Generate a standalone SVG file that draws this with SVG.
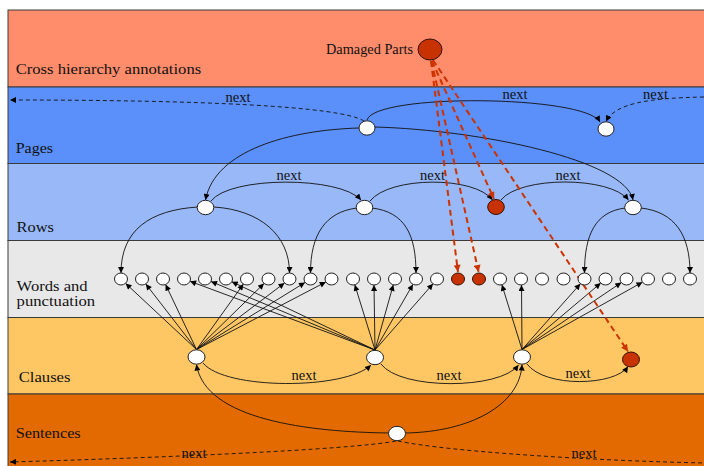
<svg xmlns="http://www.w3.org/2000/svg" width="704" height="466" viewBox="0 0 704 466">
<defs>
<marker id="ah" viewBox="0 0 10 10" refX="10" refY="5" markerWidth="7" markerHeight="6" markerUnits="userSpaceOnUse" orient="auto"><path d="M0,0 L10,5 L0,10 z" fill="#000"/></marker>
<marker id="ahr" viewBox="0 0 10 10" refX="10" refY="5" markerWidth="8" markerHeight="7" markerUnits="userSpaceOnUse" orient="auto"><path d="M0,0 L10,5 L0,10 z" fill="#cc3300"/></marker>
</defs>
<style>
.band{stroke:#3a3a3a;stroke-width:1}
.lbl{font-family:"Liberation Serif","Times New Roman",serif;font-size:14.5px;fill:#111}
.nx{font-family:"Liberation Serif","Times New Roman",serif;font-size:14px;fill:#111;text-anchor:middle}
.n{fill:#fff;stroke:#222;stroke-width:1}
.r{fill:#c83200;stroke:#331100;stroke-width:1}
.e{fill:none;stroke:#111;stroke-width:0.9;marker-end:url(#ah)}
.d{fill:none;stroke:#111;stroke-width:0.9;stroke-dasharray:4 3}
.rd{fill:none;stroke:#cc3300;stroke-width:2;stroke-dasharray:6 4;marker-end:url(#ahr)}
</style>
<rect x="0" y="0" width="704" height="466" fill="#fff"/>
<g id="bands">
<rect class="band" x="8" y="10" width="700" height="77" fill="#ff8c6b"/>
<rect class="band" x="8" y="87" width="700" height="76.5" fill="#5b8ff9"/>
<rect class="band" x="8" y="163.5" width="700" height="77" fill="#98b8f8"/>
<rect class="band" x="8" y="240.5" width="700" height="77" fill="#e8e8e8"/>
<rect class="band" x="8" y="317.5" width="700" height="76.5" fill="#ffc764"/>
<rect class="band" x="8" y="394" width="700" height="80" fill="#e26a00"/>
<text class="lbl" x="15.7" y="74" textLength="185.5" lengthAdjust="spacingAndGlyphs">Cross hierarchy annotations</text>
<text class="lbl" x="15.7" y="153" textLength="37.3" lengthAdjust="spacingAndGlyphs">Pages</text>
<text class="lbl" x="16.6" y="231.5" textLength="37.3" lengthAdjust="spacingAndGlyphs">Rows</text>
<text class="lbl" x="16.6" y="290.5" textLength="71" lengthAdjust="spacingAndGlyphs">Words and</text>
<text class="lbl" x="16.6" y="306" textLength="78.6" lengthAdjust="spacingAndGlyphs">punctuation</text>
<text class="lbl" x="18.7" y="381.5" textLength="51.8" lengthAdjust="spacingAndGlyphs">Clauses</text>
<text class="lbl" x="15.7" y="437.5" textLength="65" lengthAdjust="spacingAndGlyphs">Sentences</text>
</g>
<g id="connectors">
<!-- pages -->
<path class="d" d="M364,121 C340,106 200,100 10,100" marker-end="url(#ah)"/>
<path class="e" d="M367,120 C375,93 585,95 600,122"/>
<path class="d" d="M704,97 C650,98 615,103 606,121.5" marker-end="url(#ah)"/>
<path class="e" d="M359,128 C290,130 215,150 205.5,200"/>
<path class="e" d="M375,127 C480,130 625,160 633,200"/>
<!-- rows -->
<path class="e" d="M211,201 C230,176 340,176 361,200"/>
<path class="e" d="M370,201 C390,176 475,176 492.5,200"/>
<path class="e" d="M501,200 C520,176 610,176 628.5,200"/>
<path class="e" d="M198,207 C150,210 121,230 121,273"/>
<path class="e" d="M214,207 C260,210 289.5,235 289.5,273"/>
<path class="e" d="M357,208 C325,212 310.5,235 310.5,273"/>
<path class="e" d="M372,208 C405,212 416,235 416,273"/>
<path class="e" d="M625,208 C595,212 584.5,235 584.5,273"/>
<path class="e" d="M641,208 C675,212 690,235 690,273"/>
<!-- clause 1 fan -->
<path class="e" d="M196.5,349.5 L125.6,283.4"/>
<path class="e" d="M196.5,349.5 L145.8,284"/>
<path class="e" d="M196.5,349.5 L165.6,284.6"/>
<path class="e" d="M196.5,349.5 L243.4,284.1"/>
<path class="e" d="M196.5,349.5 L264,283.5"/>
<path class="e" d="M196.5,349.5 L284.5,283"/>
<path class="e" d="M196.5,349.5 L305,282.5"/>
<path class="e" d="M196.5,349.5 L325.8,282"/>
<!-- clause 2 fan -->
<path class="e" d="M375,350 L190.1,281.3"/>
<path class="e" d="M375,350 L211,281.5"/>
<path class="e" d="M375,350 L231.8,281.7"/>
<path class="e" d="M375,350 L354.8,284.8"/>
<path class="e" d="M375,350 L374,285"/>
<path class="e" d="M375,350 L393.3,284.8"/>
<path class="e" d="M375,350 L412.9,284.4"/>
<path class="e" d="M375,350 L433,283.8"/>
<!-- clause 3 fan -->
<path class="e" d="M522,349.5 L501.9,284.8"/>
<path class="e" d="M522,349.5 L521.5,285"/>
<path class="e" d="M522,349.5 L580.4,283.8"/>
<path class="e" d="M522,349.5 L600.7,283.1"/>
<path class="e" d="M522,349.5 L621.3,282.6"/>
<path class="e" d="M522,349.5 L642.4,282.2"/>
<!-- clause nexts -->
<path class="e" d="M203,363 C225,390 345,390 371,365"/>
<path class="e" d="M381,364 C400,390 500,390 518.5,365"/>
<path class="e" d="M527,364 C545,388 615,386 628,366.5"/>
<!-- sentence -->
<path class="e" d="M389,433 C310,432 205,420 196.5,364.5"/>
<path class="e" d="M405,433 C470,432 520,405 522,364.5"/>
<path class="d" d="M396,441 C350,450 150,458 10,462" marker-end="url(#ah)"/>
<path class="d" d="M398,441 C450,452 600,461 706,463"/>
<!-- damaged parts -->
<path class="rd" d="M431,61 L458,272"/>
<path class="rd" d="M431.5,61 L478.6,272"/>
<path class="rd" d="M432,61 L494,199"/>
<path class="rd" d="M433,60 L628,351.5"/>
<!-- labels -->
<text class="nx" x="238" y="102" textLength="25" lengthAdjust="spacingAndGlyphs">next</text>
<text class="nx" x="515" y="99" textLength="25" lengthAdjust="spacingAndGlyphs">next</text>
<text class="nx" x="655.5" y="98.5" textLength="25" lengthAdjust="spacingAndGlyphs">next</text>
<text class="nx" x="289" y="180" textLength="25" lengthAdjust="spacingAndGlyphs">next</text>
<text class="nx" x="432.5" y="180" textLength="25" lengthAdjust="spacingAndGlyphs">next</text>
<text class="nx" x="568" y="180" textLength="25" lengthAdjust="spacingAndGlyphs">next</text>
<text class="nx" x="304" y="380" textLength="25" lengthAdjust="spacingAndGlyphs">next</text>
<text class="nx" x="449" y="380" textLength="25" lengthAdjust="spacingAndGlyphs">next</text>
<text class="nx" x="578" y="378" textLength="25" lengthAdjust="spacingAndGlyphs">next</text>
<text class="nx" x="194" y="458" textLength="25" lengthAdjust="spacingAndGlyphs">next</text>
<text class="nx" x="584" y="458" textLength="25" lengthAdjust="spacingAndGlyphs">next</text>
</g>
<g id="damaged-parts">
<ellipse class="r" cx="430" cy="49.5" rx="12" ry="10.5"/>
<text class="lbl" x="413" y="54" text-anchor="end" textLength="87" lengthAdjust="spacingAndGlyphs">Damaged Parts</text>
</g>
<g id="page-1"><ellipse class="n" cx="367" cy="128" rx="8" ry="7.2"/></g>
<g id="page-2"><ellipse class="n" cx="606" cy="129" rx="8" ry="7.2"/></g>
<g id="row-1"><ellipse class="n" cx="205.5" cy="207.5" rx="8.3" ry="7.2"/></g>
<g id="row-2"><ellipse class="n" cx="364.5" cy="207.5" rx="8.3" ry="7.2"/></g>
<g id="row-3"><ellipse class="r" cx="496" cy="207" rx="8.3" ry="7.5"/></g>
<g id="row-4"><ellipse class="n" cx="633" cy="207.5" rx="8.3" ry="7.2"/></g>
<g id="words">
<g id="w0"><ellipse class="n" cx="121" cy="279" rx="6.5" ry="6"/></g>
<g id="w1"><ellipse class="n" cx="142" cy="279" rx="6.5" ry="6"/></g>
<g id="w2"><ellipse class="n" cx="163" cy="279" rx="6.5" ry="6"/></g>
<g id="w3"><ellipse class="n" cx="184" cy="279" rx="6.5" ry="6"/></g>
<g id="w4"><ellipse class="n" cx="205" cy="279" rx="6.5" ry="6"/></g>
<g id="w5"><ellipse class="n" cx="226" cy="279" rx="6.5" ry="6"/></g>
<g id="w6"><ellipse class="n" cx="247" cy="279" rx="6.5" ry="6"/></g>
<g id="w7"><ellipse class="n" cx="268.5" cy="279" rx="6.5" ry="6"/></g>
<g id="w8"><ellipse class="n" cx="289.5" cy="279" rx="6.5" ry="6"/></g>
<g id="w9"><ellipse class="n" cx="310.5" cy="279" rx="6.5" ry="6"/></g>
<g id="w10"><ellipse class="n" cx="331.5" cy="279" rx="6.5" ry="6"/></g>
<g id="w11"><ellipse class="n" cx="353" cy="279" rx="6.5" ry="6"/></g>
<g id="w12"><ellipse class="n" cx="374" cy="279" rx="6.5" ry="6"/></g>
<g id="w13"><ellipse class="n" cx="395" cy="279" rx="6.5" ry="6"/></g>
<g id="w14"><ellipse class="n" cx="416" cy="279" rx="6.5" ry="6"/></g>
<g id="w15"><ellipse class="n" cx="437" cy="279" rx="6.5" ry="6"/></g>
<g id="w16"><ellipse class="r" cx="458" cy="279" rx="6.5" ry="6"/></g>
<g id="w17"><ellipse class="r" cx="479" cy="279" rx="6.5" ry="6"/></g>
<g id="w18"><ellipse class="n" cx="500" cy="279" rx="6.5" ry="6"/></g>
<g id="w19"><ellipse class="n" cx="521" cy="279" rx="6.5" ry="6"/></g>
<g id="w20"><ellipse class="n" cx="542" cy="279" rx="6.5" ry="6"/></g>
<g id="w21"><ellipse class="n" cx="563.5" cy="279" rx="6.5" ry="6"/></g>
<g id="w22"><ellipse class="n" cx="584.5" cy="279" rx="6.5" ry="6"/></g>
<g id="w23"><ellipse class="n" cx="605.5" cy="279" rx="6.5" ry="6"/></g>
<g id="w24"><ellipse class="n" cx="626.5" cy="279" rx="6.5" ry="6"/></g>
<g id="w25"><ellipse class="n" cx="648" cy="279" rx="6.5" ry="6"/></g>
<g id="w26"><ellipse class="n" cx="669" cy="279" rx="6.5" ry="6"/></g>
<g id="w27"><ellipse class="n" cx="690" cy="279" rx="6.5" ry="6"/></g>
</g>
<g id="clause-1"><ellipse class="n" cx="196.5" cy="357" rx="8.5" ry="7.2"/></g>
<g id="clause-2"><ellipse class="n" cx="375" cy="357.5" rx="8.5" ry="7.2"/></g>
<g id="clause-3"><ellipse class="n" cx="522" cy="357" rx="8.5" ry="7.2"/></g>
<g id="clause-4"><ellipse class="r" cx="631" cy="359.5" rx="8.5" ry="7.5"/></g>
<g id="sentence-1"><ellipse class="n" cx="397" cy="433.5" rx="8.5" ry="7.2"/></g>
</svg>
